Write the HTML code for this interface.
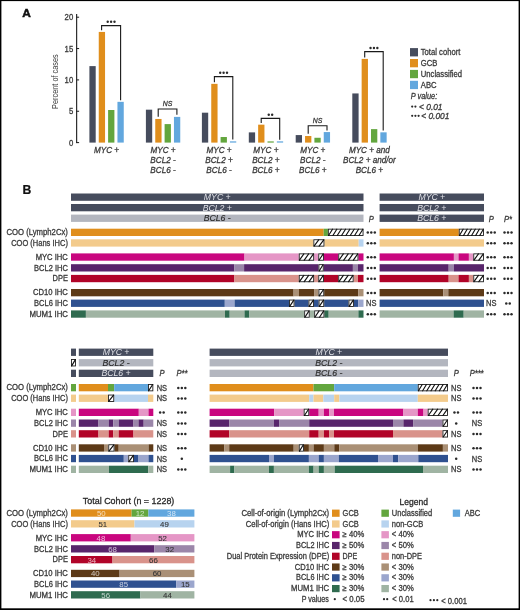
<!DOCTYPE html>
<html><head><meta charset="utf-8"><title>Figure</title>
<style>
html,body{margin:0;padding:0;background:#fff;width:520px;height:610px;overflow:hidden;}
svg{display:block;will-change:transform;}
text{font-family:"Liberation Sans", sans-serif;}
</style></head><body>
<svg width="520" height="610" viewBox="0 0 520 610">
<rect x="0" y="0" width="520" height="610" fill="#fff"/>
<text x="22.20" y="16.90" font-size="11.5" text-anchor="start" fill="#111" font-weight="bold" textLength="8.60" lengthAdjust="spacingAndGlyphs" stroke="#111" stroke-width="0.5">A</text>
<rect x="76.1" y="14.0" width="1.1" height="129.10" fill="#1a1a1a"/>
<rect x="76.5" y="142.10" width="2.6" height="1" fill="#1a1a1a"/>
<text x="73.20" y="145.70" font-size="8.6" text-anchor="end" fill="#3a3a3a" textLength="4.30" lengthAdjust="spacingAndGlyphs" stroke="#3a3a3a" stroke-width="0.3">0</text>
<rect x="76.5" y="110.75" width="2.6" height="1" fill="#1a1a1a"/>
<text x="73.20" y="114.35" font-size="8.6" text-anchor="end" fill="#3a3a3a" textLength="4.30" lengthAdjust="spacingAndGlyphs" stroke="#3a3a3a" stroke-width="0.3">5</text>
<rect x="76.5" y="79.40" width="2.6" height="1" fill="#1a1a1a"/>
<text x="73.20" y="83.00" font-size="8.6" text-anchor="end" fill="#3a3a3a" textLength="8.61" lengthAdjust="spacingAndGlyphs" stroke="#3a3a3a" stroke-width="0.3">10</text>
<rect x="76.5" y="48.05" width="2.6" height="1" fill="#1a1a1a"/>
<text x="73.20" y="51.65" font-size="8.6" text-anchor="end" fill="#3a3a3a" textLength="8.61" lengthAdjust="spacingAndGlyphs" stroke="#3a3a3a" stroke-width="0.3">15</text>
<rect x="76.5" y="16.70" width="2.6" height="1" fill="#1a1a1a"/>
<text x="73.20" y="20.30" font-size="8.6" text-anchor="end" fill="#3a3a3a" textLength="8.61" lengthAdjust="spacingAndGlyphs" stroke="#3a3a3a" stroke-width="0.3">20</text>
<text x="0" y="0" font-size="8.6" fill="#3a3a3a" text-anchor="middle" textLength="54.6" lengthAdjust="spacingAndGlyphs" transform="translate(57.9,81.6) rotate(-90)">Percent of cases</text>
<rect x="89.40" y="66.11" width="6.30" height="76.49" fill="#464c5d"/>
<rect x="98.75" y="31.93" width="6.30" height="110.67" fill="#e08e1c"/>
<rect x="108.10" y="110.00" width="6.30" height="32.60" fill="#63a63e"/>
<rect x="117.45" y="101.84" width="6.30" height="40.75" fill="#62a7de"/>
<rect x="145.90" y="109.68" width="6.30" height="32.92" fill="#464c5d"/>
<rect x="155.25" y="118.96" width="6.30" height="23.64" fill="#e08e1c"/>
<rect x="164.60" y="124.10" width="6.30" height="18.50" fill="#63a63e"/>
<rect x="173.95" y="116.89" width="6.30" height="25.71" fill="#62a7de"/>
<rect x="201.90" y="112.69" width="6.30" height="29.91" fill="#464c5d"/>
<rect x="211.25" y="83.85" width="6.30" height="58.75" fill="#e08e1c"/>
<rect x="220.60" y="137.02" width="6.30" height="5.58" fill="#63a63e"/>
<rect x="229.95" y="141.35" width="6.30" height="1.25" fill="#62a7de"/>
<rect x="248.80" y="132.38" width="6.30" height="10.22" fill="#464c5d"/>
<rect x="258.15" y="124.67" width="6.30" height="17.93" fill="#e08e1c"/>
<rect x="267.50" y="141.40" width="6.30" height="1.20" fill="#63a63e"/>
<rect x="276.85" y="141.35" width="6.30" height="1.25" fill="#62a7de"/>
<rect x="295.70" y="135.08" width="6.30" height="7.52" fill="#464c5d"/>
<rect x="305.05" y="136.02" width="6.30" height="6.58" fill="#e08e1c"/>
<rect x="314.40" y="137.77" width="6.30" height="4.83" fill="#63a63e"/>
<rect x="323.75" y="132.07" width="6.30" height="10.53" fill="#62a7de"/>
<rect x="352.30" y="93.44" width="6.30" height="49.16" fill="#464c5d"/>
<rect x="361.65" y="58.90" width="6.30" height="83.70" fill="#e08e1c"/>
<rect x="371.00" y="129.12" width="6.30" height="13.48" fill="#63a63e"/>
<rect x="380.35" y="132.32" width="6.30" height="10.28" fill="#62a7de"/>
<path d="M101.60,30.30V25.60H120.60V100.30" stroke="#1a1a1a" stroke-width="1.1" fill="none"/>
<circle cx="107.70" cy="21.80" r="1.2" fill="#2a2a2a"/>
<circle cx="111.10" cy="21.80" r="1.2" fill="#2a2a2a"/>
<circle cx="114.50" cy="21.80" r="1.2" fill="#2a2a2a"/>
<path d="M158.20,116.80V109.00H176.90V114.80" stroke="#1a1a1a" stroke-width="1.1" fill="none"/>
<text x="167.55" y="105.90" font-size="7.6" text-anchor="middle" fill="#3a3a3a" font-style="italic" textLength="9.50" lengthAdjust="spacingAndGlyphs" stroke="#3a3a3a" stroke-width="0.3">NS</text>
<path d="M214.40,82.20V76.60H232.80V139.60" stroke="#1a1a1a" stroke-width="1.1" fill="none"/>
<circle cx="220.20" cy="72.70" r="1.2" fill="#2a2a2a"/>
<circle cx="223.60" cy="72.70" r="1.2" fill="#2a2a2a"/>
<circle cx="227.00" cy="72.70" r="1.2" fill="#2a2a2a"/>
<path d="M261.20,123.00V118.40H279.70V139.80" stroke="#1a1a1a" stroke-width="1.1" fill="none"/>
<circle cx="268.75" cy="114.70" r="1.2" fill="#2a2a2a"/>
<circle cx="272.15" cy="114.70" r="1.2" fill="#2a2a2a"/>
<path d="M308.20,133.80V125.70H327.00V130.40" stroke="#1a1a1a" stroke-width="1.1" fill="none"/>
<text x="317.60" y="122.50" font-size="7.6" text-anchor="middle" fill="#3a3a3a" font-style="italic" textLength="9.50" lengthAdjust="spacingAndGlyphs" stroke="#3a3a3a" stroke-width="0.3">NS</text>
<path d="M364.70,57.60V51.60H383.20V130.60" stroke="#1a1a1a" stroke-width="1.1" fill="none"/>
<circle cx="370.55" cy="48.00" r="1.2" fill="#2a2a2a"/>
<circle cx="373.95" cy="48.00" r="1.2" fill="#2a2a2a"/>
<circle cx="377.35" cy="48.00" r="1.2" fill="#2a2a2a"/>
<text x="106.50" y="153.20" font-size="8.4" text-anchor="middle" fill="#3a3a3a" font-style="italic" textLength="25.13" lengthAdjust="spacingAndGlyphs" stroke="#3a3a3a" stroke-width="0.3">MYC +</text>
<text x="163.00" y="153.20" font-size="8.4" text-anchor="middle" fill="#3a3a3a" font-style="italic" textLength="25.13" lengthAdjust="spacingAndGlyphs" stroke="#3a3a3a" stroke-width="0.3">MYC +</text>
<text x="163.00" y="163.10" font-size="8.4" text-anchor="middle" fill="#3a3a3a" font-style="italic" textLength="25.36" lengthAdjust="spacingAndGlyphs" stroke="#3a3a3a" stroke-width="0.3">BCL2 -</text>
<text x="163.00" y="173.00" font-size="8.4" text-anchor="middle" fill="#3a3a3a" font-style="italic" textLength="25.36" lengthAdjust="spacingAndGlyphs" stroke="#3a3a3a" stroke-width="0.3">BCL6 -</text>
<text x="219.00" y="153.20" font-size="8.4" text-anchor="middle" fill="#3a3a3a" font-style="italic" textLength="25.13" lengthAdjust="spacingAndGlyphs" stroke="#3a3a3a" stroke-width="0.3">MYC +</text>
<text x="219.00" y="163.10" font-size="8.4" text-anchor="middle" fill="#3a3a3a" font-style="italic" textLength="27.40" lengthAdjust="spacingAndGlyphs" stroke="#3a3a3a" stroke-width="0.3">BCL2 +</text>
<text x="219.00" y="173.00" font-size="8.4" text-anchor="middle" fill="#3a3a3a" font-style="italic" textLength="25.36" lengthAdjust="spacingAndGlyphs" stroke="#3a3a3a" stroke-width="0.3">BCL6 -</text>
<text x="265.90" y="153.20" font-size="8.4" text-anchor="middle" fill="#3a3a3a" font-style="italic" textLength="25.13" lengthAdjust="spacingAndGlyphs" stroke="#3a3a3a" stroke-width="0.3">MYC +</text>
<text x="265.90" y="163.10" font-size="8.4" text-anchor="middle" fill="#3a3a3a" font-style="italic" textLength="27.40" lengthAdjust="spacingAndGlyphs" stroke="#3a3a3a" stroke-width="0.3">BCL2 +</text>
<text x="265.90" y="173.00" font-size="8.4" text-anchor="middle" fill="#3a3a3a" font-style="italic" textLength="27.40" lengthAdjust="spacingAndGlyphs" stroke="#3a3a3a" stroke-width="0.3">BCL6 +</text>
<text x="312.80" y="153.20" font-size="8.4" text-anchor="middle" fill="#3a3a3a" font-style="italic" textLength="25.13" lengthAdjust="spacingAndGlyphs" stroke="#3a3a3a" stroke-width="0.3">MYC +</text>
<text x="312.80" y="163.10" font-size="8.4" text-anchor="middle" fill="#3a3a3a" font-style="italic" textLength="25.36" lengthAdjust="spacingAndGlyphs" stroke="#3a3a3a" stroke-width="0.3">BCL2 -</text>
<text x="312.80" y="173.00" font-size="8.4" text-anchor="middle" fill="#3a3a3a" font-style="italic" textLength="27.40" lengthAdjust="spacingAndGlyphs" stroke="#3a3a3a" stroke-width="0.3">BCL6 +</text>
<text x="369.40" y="153.20" font-size="8.4" text-anchor="middle" fill="#3a3a3a" font-style="italic" textLength="40.99" lengthAdjust="spacingAndGlyphs" stroke="#3a3a3a" stroke-width="0.3">MYC + and</text>
<text x="369.40" y="163.10" font-size="8.4" text-anchor="middle" fill="#3a3a3a" font-style="italic" textLength="52.77" lengthAdjust="spacingAndGlyphs" stroke="#3a3a3a" stroke-width="0.3">BCL2 + and/or</text>
<text x="369.40" y="173.00" font-size="8.4" text-anchor="middle" fill="#3a3a3a" font-style="italic" textLength="27.40" lengthAdjust="spacingAndGlyphs" stroke="#3a3a3a" stroke-width="0.3">BCL6 +</text>
<rect x="410.00" y="48.10" width="8.00" height="8.30" fill="#464c5d"/>
<text x="420.80" y="55.10" font-size="8.5" text-anchor="start" fill="#3a3a3a" textLength="39.54" lengthAdjust="spacingAndGlyphs" stroke="#3a3a3a" stroke-width="0.3">Total cohort</text>
<rect x="410.00" y="59.00" width="8.00" height="8.30" fill="#e08e1c"/>
<text x="420.80" y="66.00" font-size="8.5" text-anchor="start" fill="#3a3a3a" textLength="16.58" lengthAdjust="spacingAndGlyphs" stroke="#3a3a3a" stroke-width="0.3">GCB</text>
<rect x="410.00" y="69.90" width="8.00" height="8.30" fill="#63a63e"/>
<text x="420.80" y="76.90" font-size="8.5" text-anchor="start" fill="#3a3a3a" textLength="41.24" lengthAdjust="spacingAndGlyphs" stroke="#3a3a3a" stroke-width="0.3">Unclassified</text>
<rect x="410.00" y="80.80" width="8.00" height="8.30" fill="#62a7de"/>
<text x="420.80" y="87.80" font-size="8.5" text-anchor="start" fill="#3a3a3a" textLength="15.73" lengthAdjust="spacingAndGlyphs" stroke="#3a3a3a" stroke-width="0.3">ABC</text>
<text x="410.80" y="99.30" font-size="8.2" text-anchor="start" fill="#3a3a3a" font-style="italic" textLength="26.39" lengthAdjust="spacingAndGlyphs" stroke="#3a3a3a" stroke-width="0.3">P value:</text>
<circle cx="412.20" cy="106.60" r="1.1" fill="#2a2a2a"/>
<circle cx="415.40" cy="106.60" r="1.1" fill="#2a2a2a"/>
<text x="419.00" y="110.20" font-size="8.4" text-anchor="start" fill="#3a3a3a" font-style="italic" stroke="#3a3a3a" stroke-width="0.3">&lt; 0.01</text>
<circle cx="412.20" cy="115.80" r="1.1" fill="#2a2a2a"/>
<circle cx="415.40" cy="115.80" r="1.1" fill="#2a2a2a"/>
<circle cx="418.60" cy="115.80" r="1.1" fill="#2a2a2a"/>
<text x="421.20" y="119.40" font-size="8.4" text-anchor="start" fill="#3a3a3a" font-style="italic" stroke="#3a3a3a" stroke-width="0.3">&lt; 0.001</text>
<text x="22.60" y="194.00" font-size="12.2" text-anchor="start" fill="#111" font-weight="bold" stroke="#111" stroke-width="0.2">B</text>
<text x="67.90" y="235.10" font-size="8.4" text-anchor="end" fill="#3a3a3a" textLength="61.40" lengthAdjust="spacingAndGlyphs" stroke="#3a3a3a" stroke-width="0.3">COO (Lymph2Cx)</text>
<text x="67.90" y="245.70" font-size="8.4" text-anchor="end" fill="#3a3a3a" textLength="56.70" lengthAdjust="spacingAndGlyphs" stroke="#3a3a3a" stroke-width="0.3">COO (Hans IHC)</text>
<text x="67.90" y="259.80" font-size="8.4" text-anchor="end" fill="#3a3a3a" textLength="32.20" lengthAdjust="spacingAndGlyphs" stroke="#3a3a3a" stroke-width="0.3">MYC IHC</text>
<text x="67.90" y="270.60" font-size="8.4" text-anchor="end" fill="#3a3a3a" textLength="33.80" lengthAdjust="spacingAndGlyphs" stroke="#3a3a3a" stroke-width="0.3">BCL2 IHC</text>
<text x="67.90" y="281.30" font-size="8.4" text-anchor="end" fill="#3a3a3a" textLength="15.40" lengthAdjust="spacingAndGlyphs" stroke="#3a3a3a" stroke-width="0.3">DPE</text>
<text x="67.90" y="295.40" font-size="8.4" text-anchor="end" fill="#3a3a3a" textLength="34.90" lengthAdjust="spacingAndGlyphs" stroke="#3a3a3a" stroke-width="0.3">CD10 IHC</text>
<text x="67.90" y="306.00" font-size="8.4" text-anchor="end" fill="#3a3a3a" textLength="33.80" lengthAdjust="spacingAndGlyphs" stroke="#3a3a3a" stroke-width="0.3">BCL6 IHC</text>
<text x="67.90" y="316.80" font-size="8.4" text-anchor="end" fill="#3a3a3a" textLength="38.50" lengthAdjust="spacingAndGlyphs" stroke="#3a3a3a" stroke-width="0.3">MUM1 IHC</text>
<text x="67.90" y="390.40" font-size="8.4" text-anchor="end" fill="#3a3a3a" textLength="61.40" lengthAdjust="spacingAndGlyphs" stroke="#3a3a3a" stroke-width="0.3">COO (Lymph2Cx)</text>
<text x="67.90" y="401.00" font-size="8.4" text-anchor="end" fill="#3a3a3a" textLength="56.70" lengthAdjust="spacingAndGlyphs" stroke="#3a3a3a" stroke-width="0.3">COO (Hans IHC)</text>
<text x="67.90" y="415.10" font-size="8.4" text-anchor="end" fill="#3a3a3a" textLength="32.20" lengthAdjust="spacingAndGlyphs" stroke="#3a3a3a" stroke-width="0.3">MYC IHC</text>
<text x="67.90" y="425.90" font-size="8.4" text-anchor="end" fill="#3a3a3a" textLength="33.80" lengthAdjust="spacingAndGlyphs" stroke="#3a3a3a" stroke-width="0.3">BCL2 IHC</text>
<text x="67.90" y="436.60" font-size="8.4" text-anchor="end" fill="#3a3a3a" textLength="15.40" lengthAdjust="spacingAndGlyphs" stroke="#3a3a3a" stroke-width="0.3">DPE</text>
<text x="67.90" y="450.70" font-size="8.4" text-anchor="end" fill="#3a3a3a" textLength="34.90" lengthAdjust="spacingAndGlyphs" stroke="#3a3a3a" stroke-width="0.3">CD10 IHC</text>
<text x="67.90" y="461.30" font-size="8.4" text-anchor="end" fill="#3a3a3a" textLength="33.80" lengthAdjust="spacingAndGlyphs" stroke="#3a3a3a" stroke-width="0.3">BCL6 IHC</text>
<text x="67.90" y="472.10" font-size="8.4" text-anchor="end" fill="#3a3a3a" textLength="38.50" lengthAdjust="spacingAndGlyphs" stroke="#3a3a3a" stroke-width="0.3">MUM1 IHC</text>
<rect x="71.00" y="193.50" width="292.50" height="7.30" fill="#464c5d"/>
<text x="217.25" y="200.00" font-size="8.7" text-anchor="middle" fill="#dfe0e6" font-style="italic">MYC +</text>
<rect x="71.00" y="204.00" width="292.50" height="7.30" fill="#464c5d"/>
<text x="217.25" y="210.50" font-size="8.7" text-anchor="middle" fill="#dfe0e6" font-style="italic">BCL2 +</text>
<rect x="71.00" y="214.60" width="292.50" height="7.30" fill="#b3b6bf"/>
<text x="217.25" y="221.10" font-size="8.7" text-anchor="middle" fill="#2a2a2a" font-style="italic" stroke="#2a2a2a" stroke-width="0.15">BCL6 -</text>
<rect x="71.00" y="228.70" width="252.70" height="7.30" fill="#e08e1c"/>
<rect x="323.70" y="228.70" width="4.20" height="7.30" fill="#63a63e"/>
<rect x="328.35" y="229.15" width="34.70" height="6.40" fill="#fff" stroke="#1e1e1e" stroke-width="0.9"/>
<path d="M328.55,235.50L332.49,229.20 M332.89,235.50L336.82,229.20 M337.22,235.50L341.16,229.20 M341.56,235.50L345.50,229.20 M345.90,235.50L349.84,229.20 M350.24,235.50L354.17,229.20 M354.57,235.50L358.51,229.20 M358.91,235.50L362.85,229.20" stroke="#111" stroke-width="1.15" fill="none" stroke-linecap="round"/>
<rect x="71.00" y="239.30" width="242.40" height="7.30" fill="#f3cb8c"/>
<rect x="324.40" y="239.30" width="34.30" height="7.30" fill="#f3cb8c"/>
<rect x="358.70" y="239.30" width="4.80" height="7.30" fill="#b7d3ef"/>
<rect x="313.85" y="239.75" width="10.10" height="6.40" fill="#fff" stroke="#1e1e1e" stroke-width="0.9"/>
<path d="M314.05,246.10L318.70,239.80 M319.10,246.10L323.75,239.80" stroke="#111" stroke-width="1.15" fill="none" stroke-linecap="round"/>
<rect x="71.00" y="253.40" width="173.50" height="7.30" fill="#c9067f"/>
<rect x="244.50" y="253.40" width="54.30" height="7.30" fill="#e596c6"/>
<rect x="314.10" y="253.40" width="4.20" height="7.30" fill="#e596c6"/>
<rect x="323.90" y="253.40" width="14.40" height="7.30" fill="#c9067f"/>
<rect x="358.40" y="253.40" width="5.10" height="7.30" fill="#c9067f"/>
<rect x="299.25" y="253.85" width="14.40" height="6.40" fill="#fff" stroke="#1e1e1e" stroke-width="0.9"/>
<path d="M299.45,260.20L303.85,253.90 M304.25,260.20L308.65,253.90 M309.05,260.20L313.45,253.90" stroke="#111" stroke-width="1.15" fill="none" stroke-linecap="round"/>
<rect x="318.75" y="253.85" width="4.70" height="6.40" fill="#fff" stroke="#1e1e1e" stroke-width="0.9"/>
<path d="M318.95,260.20L323.25,253.90" stroke="#111" stroke-width="1.15" fill="none" stroke-linecap="round"/>
<rect x="338.75" y="253.85" width="19.20" height="6.40" fill="#fff" stroke="#1e1e1e" stroke-width="0.9"/>
<path d="M338.95,260.20L343.35,253.90 M343.75,260.20L348.15,253.90 M348.55,260.20L352.95,253.90 M353.35,260.20L357.75,253.90" stroke="#111" stroke-width="1.15" fill="none" stroke-linecap="round"/>
<rect x="71.00" y="264.20" width="163.40" height="7.30" fill="#58256b"/>
<rect x="234.40" y="264.20" width="9.70" height="7.30" fill="#9b86a9"/>
<rect x="244.10" y="264.20" width="74.40" height="7.30" fill="#58256b"/>
<rect x="323.70" y="264.20" width="29.20" height="7.30" fill="#58256b"/>
<rect x="352.90" y="264.20" width="5.00" height="7.30" fill="#9b86a9"/>
<rect x="357.90" y="264.20" width="5.60" height="7.30" fill="#58256b"/>
<rect x="318.95" y="264.65" width="4.30" height="6.40" fill="#fff" stroke="#1e1e1e" stroke-width="0.9"/>
<path d="M319.15,271.00L323.05,264.70" stroke="#111" stroke-width="1.15" fill="none" stroke-linecap="round"/>
<rect x="71.00" y="274.90" width="163.40" height="7.30" fill="#b10428"/>
<rect x="234.40" y="274.90" width="64.40" height="7.30" fill="#d9938b"/>
<rect x="314.10" y="274.90" width="4.20" height="7.30" fill="#d9938b"/>
<rect x="323.90" y="274.90" width="14.40" height="7.30" fill="#b10428"/>
<rect x="353.60" y="274.90" width="4.40" height="7.30" fill="#d9938b"/>
<rect x="358.00" y="274.90" width="5.50" height="7.30" fill="#b10428"/>
<rect x="299.25" y="275.35" width="14.40" height="6.40" fill="#fff" stroke="#1e1e1e" stroke-width="0.9"/>
<path d="M299.45,281.70L303.85,275.40 M304.25,281.70L308.65,275.40 M309.05,281.70L313.45,275.40" stroke="#111" stroke-width="1.15" fill="none" stroke-linecap="round"/>
<rect x="318.75" y="275.35" width="4.70" height="6.40" fill="#fff" stroke="#1e1e1e" stroke-width="0.9"/>
<path d="M318.95,281.70L323.25,275.40" stroke="#111" stroke-width="1.15" fill="none" stroke-linecap="round"/>
<rect x="338.75" y="275.35" width="14.40" height="6.40" fill="#fff" stroke="#1e1e1e" stroke-width="0.9"/>
<path d="M338.95,281.70L343.35,275.40 M343.75,281.70L348.15,275.40 M348.55,281.70L352.95,275.40" stroke="#111" stroke-width="1.15" fill="none" stroke-linecap="round"/>
<rect x="71.00" y="289.00" width="222.60" height="7.30" fill="#5d3a17"/>
<rect x="293.60" y="289.00" width="5.40" height="7.30" fill="#aa9076"/>
<rect x="299.00" y="289.00" width="15.10" height="7.30" fill="#5d3a17"/>
<rect x="314.10" y="289.00" width="4.40" height="7.30" fill="#aa9076"/>
<rect x="324.20" y="289.00" width="34.00" height="7.30" fill="#5d3a17"/>
<rect x="358.20" y="289.00" width="5.30" height="7.30" fill="#aa9076"/>
<rect x="318.95" y="289.45" width="4.80" height="6.40" fill="#fff" stroke="#1e1e1e" stroke-width="0.9"/>
<path d="M319.15,295.80L323.55,289.50" stroke="#111" stroke-width="1.15" fill="none" stroke-linecap="round"/>
<rect x="71.00" y="299.60" width="153.80" height="7.30" fill="#2f5190"/>
<rect x="224.80" y="299.60" width="9.80" height="7.30" fill="#9ba6cd"/>
<rect x="234.60" y="299.60" width="54.40" height="7.30" fill="#2f5190"/>
<rect x="294.50" y="299.60" width="14.00" height="7.30" fill="#2f5190"/>
<rect x="314.00" y="299.60" width="4.60" height="7.30" fill="#2f5190"/>
<rect x="324.20" y="299.60" width="24.30" height="7.30" fill="#2f5190"/>
<rect x="353.90" y="299.60" width="4.30" height="7.30" fill="#2f5190"/>
<rect x="358.20" y="299.60" width="5.30" height="7.30" fill="#9ba6cd"/>
<rect x="289.45" y="300.05" width="4.60" height="6.40" fill="#fff" stroke="#1e1e1e" stroke-width="0.9"/>
<path d="M289.65,306.40L293.85,300.10" stroke="#111" stroke-width="1.15" fill="none" stroke-linecap="round"/>
<rect x="308.95" y="300.05" width="4.60" height="6.40" fill="#fff" stroke="#1e1e1e" stroke-width="0.9"/>
<path d="M309.15,306.40L313.35,300.10" stroke="#111" stroke-width="1.15" fill="none" stroke-linecap="round"/>
<rect x="319.05" y="300.05" width="4.70" height="6.40" fill="#fff" stroke="#1e1e1e" stroke-width="0.9"/>
<path d="M319.25,306.40L323.55,300.10" stroke="#111" stroke-width="1.15" fill="none" stroke-linecap="round"/>
<rect x="348.95" y="300.05" width="4.50" height="6.40" fill="#fff" stroke="#1e1e1e" stroke-width="0.9"/>
<path d="M349.15,306.40L353.25,300.10" stroke="#111" stroke-width="1.15" fill="none" stroke-linecap="round"/>
<rect x="71.00" y="310.40" width="14.90" height="7.30" fill="#2f6b4f"/>
<rect x="85.90" y="310.40" width="139.10" height="7.30" fill="#a0b4a3"/>
<rect x="225.00" y="310.40" width="4.70" height="7.30" fill="#2f6b4f"/>
<rect x="229.70" y="310.40" width="14.80" height="7.30" fill="#a0b4a3"/>
<rect x="244.50" y="310.40" width="4.90" height="7.30" fill="#2f6b4f"/>
<rect x="249.40" y="310.40" width="54.80" height="7.30" fill="#a0b4a3"/>
<rect x="309.70" y="310.40" width="4.50" height="7.30" fill="#a0b4a3"/>
<rect x="324.40" y="310.40" width="4.30" height="7.30" fill="#2f6b4f"/>
<rect x="328.70" y="310.40" width="29.70" height="7.30" fill="#a0b4a3"/>
<rect x="358.40" y="310.40" width="5.10" height="7.30" fill="#2f6b4f"/>
<rect x="304.65" y="310.85" width="4.60" height="6.40" fill="#fff" stroke="#1e1e1e" stroke-width="0.9"/>
<path d="M304.85,317.20L309.05,310.90" stroke="#111" stroke-width="1.15" fill="none" stroke-linecap="round"/>
<rect x="314.65" y="310.85" width="9.30" height="6.40" fill="#fff" stroke="#1e1e1e" stroke-width="0.9"/>
<path d="M314.85,317.20L319.10,310.90 M319.50,317.20L323.75,310.90" stroke="#111" stroke-width="1.15" fill="none" stroke-linecap="round"/>
<text x="371.30" y="222.20" font-size="8.4" text-anchor="middle" fill="#3a3a3a" font-style="italic" textLength="5.04" lengthAdjust="spacingAndGlyphs" stroke="#3a3a3a" stroke-width="0.3">P</text>
<circle cx="367.80" cy="232.60" r="1.25" fill="#2a2a2a"/>
<circle cx="371.30" cy="232.60" r="1.25" fill="#2a2a2a"/>
<circle cx="374.80" cy="232.60" r="1.25" fill="#2a2a2a"/>
<circle cx="367.80" cy="243.20" r="1.25" fill="#2a2a2a"/>
<circle cx="371.30" cy="243.20" r="1.25" fill="#2a2a2a"/>
<circle cx="374.80" cy="243.20" r="1.25" fill="#2a2a2a"/>
<circle cx="367.80" cy="257.30" r="1.25" fill="#2a2a2a"/>
<circle cx="371.30" cy="257.30" r="1.25" fill="#2a2a2a"/>
<circle cx="374.80" cy="257.30" r="1.25" fill="#2a2a2a"/>
<circle cx="367.80" cy="268.10" r="1.25" fill="#2a2a2a"/>
<circle cx="371.30" cy="268.10" r="1.25" fill="#2a2a2a"/>
<circle cx="374.80" cy="268.10" r="1.25" fill="#2a2a2a"/>
<circle cx="367.80" cy="278.80" r="1.25" fill="#2a2a2a"/>
<circle cx="371.30" cy="278.80" r="1.25" fill="#2a2a2a"/>
<circle cx="374.80" cy="278.80" r="1.25" fill="#2a2a2a"/>
<circle cx="367.80" cy="292.90" r="1.25" fill="#2a2a2a"/>
<circle cx="371.30" cy="292.90" r="1.25" fill="#2a2a2a"/>
<circle cx="374.80" cy="292.90" r="1.25" fill="#2a2a2a"/>
<text x="371.30" y="306.20" font-size="8.3" text-anchor="middle" fill="#3a3a3a" textLength="10.38" lengthAdjust="spacingAndGlyphs" stroke="#3a3a3a" stroke-width="0.3">NS</text>
<circle cx="367.80" cy="314.30" r="1.25" fill="#2a2a2a"/>
<circle cx="371.30" cy="314.30" r="1.25" fill="#2a2a2a"/>
<circle cx="374.80" cy="314.30" r="1.25" fill="#2a2a2a"/>
<rect x="379.60" y="193.50" width="104.40" height="7.30" fill="#464c5d"/>
<text x="431.80" y="200.00" font-size="8.7" text-anchor="middle" fill="#dfe0e6" font-style="italic">MYC +</text>
<rect x="379.60" y="204.00" width="104.40" height="7.30" fill="#464c5d"/>
<text x="431.80" y="210.50" font-size="8.7" text-anchor="middle" fill="#dfe0e6" font-style="italic">BCL2 +</text>
<rect x="379.60" y="214.60" width="104.40" height="7.30" fill="#464c5d"/>
<text x="431.80" y="221.10" font-size="8.7" text-anchor="middle" fill="#dfe0e6" font-style="italic">BCL6 +</text>
<rect x="379.60" y="228.70" width="79.20" height="7.30" fill="#e08e1c"/>
<rect x="459.25" y="229.15" width="24.30" height="6.40" fill="#fff" stroke="#1e1e1e" stroke-width="0.9"/>
<path d="M459.45,235.50L463.10,229.20 M463.50,235.50L467.15,229.20 M467.55,235.50L471.20,229.20 M471.60,235.50L475.25,229.20 M475.65,235.50L479.30,229.20 M479.70,235.50L483.35,229.20" stroke="#111" stroke-width="1.15" fill="none" stroke-linecap="round"/>
<rect x="379.60" y="239.30" width="104.40" height="7.30" fill="#f3cb8c"/>
<rect x="379.60" y="253.40" width="74.30" height="7.30" fill="#c9067f"/>
<rect x="453.90" y="253.40" width="4.60" height="7.30" fill="#e596c6"/>
<rect x="458.50" y="253.40" width="10.40" height="7.30" fill="#c9067f"/>
<rect x="468.90" y="253.40" width="4.40" height="7.30" fill="#e596c6"/>
<rect x="473.75" y="253.85" width="9.80" height="6.40" fill="#fff" stroke="#1e1e1e" stroke-width="0.9"/>
<path d="M473.95,260.20L478.45,253.90 M478.85,260.20L483.35,253.90" stroke="#111" stroke-width="1.15" fill="none" stroke-linecap="round"/>
<rect x="379.60" y="264.20" width="69.10" height="7.30" fill="#58256b"/>
<rect x="448.70" y="264.20" width="5.20" height="7.30" fill="#9b86a9"/>
<rect x="453.90" y="264.20" width="30.10" height="7.30" fill="#58256b"/>
<rect x="379.60" y="274.90" width="69.10" height="7.30" fill="#b10428"/>
<rect x="448.70" y="274.90" width="9.80" height="7.30" fill="#d9938b"/>
<rect x="458.50" y="274.90" width="10.40" height="7.30" fill="#b10428"/>
<rect x="468.90" y="274.90" width="4.40" height="7.30" fill="#d9938b"/>
<rect x="473.75" y="275.35" width="9.80" height="6.40" fill="#fff" stroke="#1e1e1e" stroke-width="0.9"/>
<path d="M473.95,281.70L478.45,275.40 M478.85,281.70L483.35,275.40" stroke="#111" stroke-width="1.15" fill="none" stroke-linecap="round"/>
<rect x="379.60" y="289.00" width="63.70" height="7.30" fill="#5d3a17"/>
<rect x="443.30" y="289.00" width="5.00" height="7.30" fill="#aa9076"/>
<rect x="448.30" y="289.00" width="35.70" height="7.30" fill="#5d3a17"/>
<rect x="379.60" y="299.60" width="104.40" height="7.30" fill="#2f5190"/>
<rect x="379.60" y="310.40" width="74.00" height="7.30" fill="#a0b4a3"/>
<rect x="453.60" y="310.40" width="10.10" height="7.30" fill="#2f6b4f"/>
<rect x="463.70" y="310.40" width="20.30" height="7.30" fill="#a0b4a3"/>
<text x="491.20" y="222.20" font-size="8.4" text-anchor="middle" fill="#3a3a3a" font-style="italic" textLength="5.04" lengthAdjust="spacingAndGlyphs" stroke="#3a3a3a" stroke-width="0.3">P</text>
<circle cx="487.70" cy="232.60" r="1.25" fill="#2a2a2a"/>
<circle cx="491.20" cy="232.60" r="1.25" fill="#2a2a2a"/>
<circle cx="494.70" cy="232.60" r="1.25" fill="#2a2a2a"/>
<circle cx="487.70" cy="243.20" r="1.25" fill="#2a2a2a"/>
<circle cx="491.20" cy="243.20" r="1.25" fill="#2a2a2a"/>
<circle cx="494.70" cy="243.20" r="1.25" fill="#2a2a2a"/>
<circle cx="487.70" cy="257.30" r="1.25" fill="#2a2a2a"/>
<circle cx="491.20" cy="257.30" r="1.25" fill="#2a2a2a"/>
<circle cx="494.70" cy="257.30" r="1.25" fill="#2a2a2a"/>
<circle cx="487.70" cy="268.10" r="1.25" fill="#2a2a2a"/>
<circle cx="491.20" cy="268.10" r="1.25" fill="#2a2a2a"/>
<circle cx="494.70" cy="268.10" r="1.25" fill="#2a2a2a"/>
<circle cx="487.70" cy="278.80" r="1.25" fill="#2a2a2a"/>
<circle cx="491.20" cy="278.80" r="1.25" fill="#2a2a2a"/>
<circle cx="494.70" cy="278.80" r="1.25" fill="#2a2a2a"/>
<circle cx="487.70" cy="292.90" r="1.25" fill="#2a2a2a"/>
<circle cx="491.20" cy="292.90" r="1.25" fill="#2a2a2a"/>
<circle cx="494.70" cy="292.90" r="1.25" fill="#2a2a2a"/>
<text x="491.20" y="306.20" font-size="8.3" text-anchor="middle" fill="#3a3a3a" textLength="10.38" lengthAdjust="spacingAndGlyphs" stroke="#3a3a3a" stroke-width="0.3">NS</text>
<circle cx="487.70" cy="314.30" r="1.25" fill="#2a2a2a"/>
<circle cx="491.20" cy="314.30" r="1.25" fill="#2a2a2a"/>
<circle cx="494.70" cy="314.30" r="1.25" fill="#2a2a2a"/>
<circle cx="504.50" cy="232.60" r="1.25" fill="#2a2a2a"/>
<circle cx="508.00" cy="232.60" r="1.25" fill="#2a2a2a"/>
<circle cx="511.50" cy="232.60" r="1.25" fill="#2a2a2a"/>
<circle cx="504.50" cy="243.20" r="1.25" fill="#2a2a2a"/>
<circle cx="508.00" cy="243.20" r="1.25" fill="#2a2a2a"/>
<circle cx="511.50" cy="243.20" r="1.25" fill="#2a2a2a"/>
<circle cx="504.50" cy="257.30" r="1.25" fill="#2a2a2a"/>
<circle cx="508.00" cy="257.30" r="1.25" fill="#2a2a2a"/>
<circle cx="511.50" cy="257.30" r="1.25" fill="#2a2a2a"/>
<circle cx="504.50" cy="268.10" r="1.25" fill="#2a2a2a"/>
<circle cx="508.00" cy="268.10" r="1.25" fill="#2a2a2a"/>
<circle cx="511.50" cy="268.10" r="1.25" fill="#2a2a2a"/>
<circle cx="504.50" cy="278.80" r="1.25" fill="#2a2a2a"/>
<circle cx="508.00" cy="278.80" r="1.25" fill="#2a2a2a"/>
<circle cx="511.50" cy="278.80" r="1.25" fill="#2a2a2a"/>
<circle cx="504.50" cy="292.90" r="1.25" fill="#2a2a2a"/>
<circle cx="508.00" cy="292.90" r="1.25" fill="#2a2a2a"/>
<circle cx="511.50" cy="292.90" r="1.25" fill="#2a2a2a"/>
<circle cx="506.25" cy="303.50" r="1.25" fill="#2a2a2a"/>
<circle cx="509.75" cy="303.50" r="1.25" fill="#2a2a2a"/>
<circle cx="504.50" cy="314.30" r="1.25" fill="#2a2a2a"/>
<circle cx="508.00" cy="314.30" r="1.25" fill="#2a2a2a"/>
<circle cx="511.50" cy="314.30" r="1.25" fill="#2a2a2a"/>
<text x="504.00" y="222.20" font-size="8.4" text-anchor="start" fill="#3a3a3a" font-style="italic" textLength="7.99" lengthAdjust="spacingAndGlyphs" stroke="#3a3a3a" stroke-width="0.3">P*</text>
<rect x="71.00" y="348.60" width="5.00" height="7.30" fill="#464c5d"/>
<rect x="71.45" y="359.55" width="4.10" height="6.40" fill="#fff" stroke="#1e1e1e" stroke-width="0.9"/>
<path d="M71.65,365.90L75.35,359.60" stroke="#111" stroke-width="1.15" fill="none" stroke-linecap="round"/>
<rect x="71.00" y="369.70" width="5.00" height="7.30" fill="#464c5d"/>
<rect x="71.00" y="384.00" width="5.00" height="7.30" fill="#63a63e"/>
<rect x="71.00" y="394.60" width="5.00" height="7.30" fill="#f3cb8c"/>
<rect x="71.00" y="408.70" width="5.00" height="7.30" fill="#e596c6"/>
<rect x="71.00" y="419.50" width="5.00" height="7.30" fill="#9b86a9"/>
<rect x="71.00" y="430.20" width="5.00" height="7.30" fill="#d9938b"/>
<rect x="71.00" y="444.30" width="5.00" height="7.30" fill="#aa9076"/>
<rect x="71.00" y="454.90" width="5.00" height="7.30" fill="#2f5190"/>
<rect x="71.00" y="465.70" width="5.00" height="7.30" fill="#a0b4a3"/>
<rect x="78.80" y="348.60" width="74.50" height="7.30" fill="#464c5d"/>
<text x="116.05" y="355.10" font-size="8.7" text-anchor="middle" fill="#dfe0e6" font-style="italic">MYC +</text>
<rect x="78.80" y="359.10" width="74.50" height="7.30" fill="#b3b6bf"/>
<text x="116.05" y="365.60" font-size="8.7" text-anchor="middle" fill="#2a2a2a" font-style="italic" stroke="#2a2a2a" stroke-width="0.15">BCL2 -</text>
<rect x="78.80" y="369.70" width="74.50" height="7.30" fill="#464c5d"/>
<text x="116.05" y="376.20" font-size="8.7" text-anchor="middle" fill="#dfe0e6" font-style="italic">BCL6 +</text>
<rect x="78.80" y="384.00" width="29.20" height="7.30" fill="#e08e1c"/>
<rect x="108.00" y="384.00" width="6.20" height="7.30" fill="#63a63e"/>
<rect x="114.20" y="384.00" width="33.80" height="7.30" fill="#62a7de"/>
<rect x="148.45" y="384.45" width="4.40" height="6.40" fill="#fff" stroke="#1e1e1e" stroke-width="0.9"/>
<path d="M148.65,390.80L152.65,384.50" stroke="#111" stroke-width="1.15" fill="none" stroke-linecap="round"/>
<rect x="78.80" y="394.60" width="29.20" height="7.30" fill="#f3cb8c"/>
<rect x="114.20" y="394.60" width="33.80" height="7.30" fill="#b7d3ef"/>
<rect x="148.00" y="394.60" width="5.30" height="7.30" fill="#f3cb8c"/>
<rect x="108.45" y="395.05" width="5.30" height="6.40" fill="#fff" stroke="#1e1e1e" stroke-width="0.9"/>
<path d="M108.65,401.40L113.55,395.10" stroke="#111" stroke-width="1.15" fill="none" stroke-linecap="round"/>
<rect x="78.80" y="408.70" width="60.00" height="7.30" fill="#c9067f"/>
<rect x="138.80" y="408.70" width="9.70" height="7.30" fill="#e596c6"/>
<rect x="148.50" y="408.70" width="4.80" height="7.30" fill="#c9067f"/>
<rect x="78.80" y="419.50" width="19.70" height="7.30" fill="#58256b"/>
<rect x="98.50" y="419.50" width="10.20" height="7.30" fill="#9b86a9"/>
<rect x="108.70" y="419.50" width="4.60" height="7.30" fill="#58256b"/>
<rect x="113.30" y="419.50" width="5.40" height="7.30" fill="#9b86a9"/>
<rect x="118.70" y="419.50" width="14.80" height="7.30" fill="#58256b"/>
<rect x="133.50" y="419.50" width="5.00" height="7.30" fill="#9b86a9"/>
<rect x="138.50" y="419.50" width="5.20" height="7.30" fill="#58256b"/>
<rect x="143.70" y="419.50" width="9.60" height="7.30" fill="#9b86a9"/>
<rect x="78.80" y="430.20" width="19.70" height="7.30" fill="#b10428"/>
<rect x="98.50" y="430.20" width="10.20" height="7.30" fill="#d9938b"/>
<rect x="108.70" y="430.20" width="4.60" height="7.30" fill="#b10428"/>
<rect x="113.30" y="430.20" width="5.40" height="7.30" fill="#d9938b"/>
<rect x="118.70" y="430.20" width="14.80" height="7.30" fill="#b10428"/>
<rect x="133.50" y="430.20" width="19.80" height="7.30" fill="#d9938b"/>
<rect x="78.80" y="444.30" width="25.20" height="7.30" fill="#5d3a17"/>
<rect x="104.00" y="444.30" width="4.30" height="7.30" fill="#aa9076"/>
<rect x="114.50" y="444.30" width="4.20" height="7.30" fill="#5d3a17"/>
<rect x="118.70" y="444.30" width="29.90" height="7.30" fill="#aa9076"/>
<rect x="148.60" y="444.30" width="4.70" height="7.30" fill="#5d3a17"/>
<rect x="108.75" y="444.75" width="5.30" height="6.40" fill="#fff" stroke="#1e1e1e" stroke-width="0.9"/>
<path d="M108.95,451.10L113.85,444.80" stroke="#111" stroke-width="1.15" fill="none" stroke-linecap="round"/>
<rect x="78.80" y="454.90" width="45.00" height="7.30" fill="#2f5190"/>
<rect x="123.80" y="454.90" width="4.50" height="7.30" fill="#9ba6cd"/>
<rect x="134.00" y="454.90" width="4.50" height="7.30" fill="#2f5190"/>
<rect x="138.50" y="454.90" width="10.00" height="7.30" fill="#9ba6cd"/>
<rect x="148.50" y="454.90" width="4.80" height="7.30" fill="#2f5190"/>
<rect x="128.75" y="455.35" width="4.80" height="6.40" fill="#fff" stroke="#1e1e1e" stroke-width="0.9"/>
<path d="M128.95,461.70L133.35,455.40" stroke="#111" stroke-width="1.15" fill="none" stroke-linecap="round"/>
<rect x="78.80" y="465.70" width="30.20" height="7.30" fill="#a0b4a3"/>
<rect x="109.00" y="465.70" width="39.30" height="7.30" fill="#2f6b4f"/>
<rect x="148.30" y="465.70" width="5.00" height="7.30" fill="#a0b4a3"/>
<text x="161.90" y="375.90" font-size="8.4" text-anchor="middle" fill="#3a3a3a" font-style="italic" textLength="5.04" lengthAdjust="spacingAndGlyphs" stroke="#3a3a3a" stroke-width="0.3">P</text>
<text x="161.90" y="390.60" font-size="8.3" text-anchor="middle" fill="#3a3a3a" textLength="10.38" lengthAdjust="spacingAndGlyphs" stroke="#3a3a3a" stroke-width="0.3">NS</text>
<text x="161.90" y="401.20" font-size="8.3" text-anchor="middle" fill="#3a3a3a" textLength="10.38" lengthAdjust="spacingAndGlyphs" stroke="#3a3a3a" stroke-width="0.3">NS</text>
<circle cx="160.15" cy="412.60" r="1.25" fill="#2a2a2a"/>
<circle cx="163.65" cy="412.60" r="1.25" fill="#2a2a2a"/>
<text x="161.90" y="426.10" font-size="8.3" text-anchor="middle" fill="#3a3a3a" textLength="10.38" lengthAdjust="spacingAndGlyphs" stroke="#3a3a3a" stroke-width="0.3">NS</text>
<text x="161.90" y="436.80" font-size="8.3" text-anchor="middle" fill="#3a3a3a" textLength="10.38" lengthAdjust="spacingAndGlyphs" stroke="#3a3a3a" stroke-width="0.3">NS</text>
<text x="161.90" y="450.90" font-size="8.3" text-anchor="middle" fill="#3a3a3a" textLength="10.38" lengthAdjust="spacingAndGlyphs" stroke="#3a3a3a" stroke-width="0.3">NS</text>
<text x="161.90" y="461.50" font-size="8.3" text-anchor="middle" fill="#3a3a3a" textLength="10.38" lengthAdjust="spacingAndGlyphs" stroke="#3a3a3a" stroke-width="0.3">NS</text>
<text x="161.90" y="472.30" font-size="8.3" text-anchor="middle" fill="#3a3a3a" textLength="10.38" lengthAdjust="spacingAndGlyphs" stroke="#3a3a3a" stroke-width="0.3">NS</text>
<circle cx="178.30" cy="387.90" r="1.25" fill="#2a2a2a"/>
<circle cx="181.80" cy="387.90" r="1.25" fill="#2a2a2a"/>
<circle cx="185.30" cy="387.90" r="1.25" fill="#2a2a2a"/>
<circle cx="178.30" cy="398.50" r="1.25" fill="#2a2a2a"/>
<circle cx="181.80" cy="398.50" r="1.25" fill="#2a2a2a"/>
<circle cx="185.30" cy="398.50" r="1.25" fill="#2a2a2a"/>
<circle cx="178.30" cy="412.60" r="1.25" fill="#2a2a2a"/>
<circle cx="181.80" cy="412.60" r="1.25" fill="#2a2a2a"/>
<circle cx="185.30" cy="412.60" r="1.25" fill="#2a2a2a"/>
<circle cx="178.30" cy="423.40" r="1.25" fill="#2a2a2a"/>
<circle cx="181.80" cy="423.40" r="1.25" fill="#2a2a2a"/>
<circle cx="185.30" cy="423.40" r="1.25" fill="#2a2a2a"/>
<circle cx="178.30" cy="434.10" r="1.25" fill="#2a2a2a"/>
<circle cx="181.80" cy="434.10" r="1.25" fill="#2a2a2a"/>
<circle cx="185.30" cy="434.10" r="1.25" fill="#2a2a2a"/>
<circle cx="178.30" cy="448.20" r="1.25" fill="#2a2a2a"/>
<circle cx="181.80" cy="448.20" r="1.25" fill="#2a2a2a"/>
<circle cx="185.30" cy="448.20" r="1.25" fill="#2a2a2a"/>
<circle cx="181.80" cy="458.80" r="1.25" fill="#2a2a2a"/>
<circle cx="178.30" cy="469.60" r="1.25" fill="#2a2a2a"/>
<circle cx="181.80" cy="469.60" r="1.25" fill="#2a2a2a"/>
<circle cx="185.30" cy="469.60" r="1.25" fill="#2a2a2a"/>
<text x="176.40" y="375.90" font-size="8.4" text-anchor="start" fill="#3a3a3a" font-style="italic" textLength="10.93" lengthAdjust="spacingAndGlyphs" stroke="#3a3a3a" stroke-width="0.3">P**</text>
<rect x="209.60" y="348.60" width="238.40" height="7.30" fill="#464c5d"/>
<text x="328.80" y="355.10" font-size="8.7" text-anchor="middle" fill="#dfe0e6" font-style="italic">MYC +</text>
<rect x="209.60" y="359.10" width="238.40" height="7.30" fill="#b3b6bf"/>
<text x="328.80" y="365.60" font-size="8.7" text-anchor="middle" fill="#2a2a2a" font-style="italic" stroke="#2a2a2a" stroke-width="0.15">BCL2 -</text>
<rect x="209.60" y="369.70" width="238.40" height="7.30" fill="#b3b6bf"/>
<text x="328.80" y="376.20" font-size="8.7" text-anchor="middle" fill="#2a2a2a" font-style="italic" stroke="#2a2a2a" stroke-width="0.15">BCL6 -</text>
<rect x="209.60" y="384.00" width="103.90" height="7.30" fill="#e08e1c"/>
<rect x="313.50" y="384.00" width="20.70" height="7.30" fill="#63a63e"/>
<rect x="334.20" y="384.00" width="83.60" height="7.30" fill="#62a7de"/>
<rect x="418.25" y="384.45" width="29.30" height="6.40" fill="#fff" stroke="#1e1e1e" stroke-width="0.9"/>
<path d="M418.45,390.80L422.24,384.50 M422.64,390.80L426.42,384.50 M426.82,390.80L430.61,384.50 M431.01,390.80L434.79,384.50 M435.19,390.80L438.98,384.50 M439.38,390.80L443.16,384.50 M443.56,390.80L447.35,384.50" stroke="#111" stroke-width="1.15" fill="none" stroke-linecap="round"/>
<rect x="209.60" y="394.60" width="99.60" height="7.30" fill="#f3cb8c"/>
<rect x="309.20" y="394.60" width="4.30" height="7.30" fill="#b7d3ef"/>
<rect x="313.50" y="394.60" width="9.80" height="7.30" fill="#f3cb8c"/>
<rect x="323.30" y="394.60" width="10.90" height="7.30" fill="#b7d3ef"/>
<rect x="334.20" y="394.60" width="5.20" height="7.30" fill="#f3cb8c"/>
<rect x="339.40" y="394.60" width="78.40" height="7.30" fill="#b7d3ef"/>
<rect x="417.80" y="394.60" width="30.20" height="7.30" fill="#f3cb8c"/>
<rect x="209.60" y="408.70" width="64.60" height="7.30" fill="#c9067f"/>
<rect x="274.20" y="408.70" width="29.50" height="7.30" fill="#e596c6"/>
<rect x="309.20" y="408.70" width="9.50" height="7.30" fill="#c9067f"/>
<rect x="318.70" y="408.70" width="5.20" height="7.30" fill="#e596c6"/>
<rect x="323.90" y="408.70" width="5.20" height="7.30" fill="#c9067f"/>
<rect x="329.10" y="408.70" width="4.90" height="7.30" fill="#e596c6"/>
<rect x="334.00" y="408.70" width="69.40" height="7.30" fill="#c9067f"/>
<rect x="403.40" y="408.70" width="14.40" height="7.30" fill="#e596c6"/>
<rect x="417.80" y="408.70" width="5.70" height="7.30" fill="#c9067f"/>
<rect x="423.50" y="408.70" width="4.20" height="7.30" fill="#e596c6"/>
<rect x="304.15" y="409.15" width="4.60" height="6.40" fill="#fff" stroke="#1e1e1e" stroke-width="0.9"/>
<path d="M304.35,415.50L308.55,409.20" stroke="#111" stroke-width="1.15" fill="none" stroke-linecap="round"/>
<rect x="428.15" y="409.15" width="19.40" height="6.40" fill="#fff" stroke="#1e1e1e" stroke-width="0.9"/>
<path d="M428.35,415.50L432.80,409.20 M433.20,415.50L437.65,409.20 M438.05,415.50L442.50,409.20 M442.90,415.50L447.35,409.20" stroke="#111" stroke-width="1.15" fill="none" stroke-linecap="round"/>
<rect x="209.60" y="419.50" width="19.60" height="7.30" fill="#58256b"/>
<rect x="229.20" y="419.50" width="44.70" height="7.30" fill="#9b86a9"/>
<rect x="273.90" y="419.50" width="5.20" height="7.30" fill="#58256b"/>
<rect x="279.10" y="419.50" width="30.10" height="7.30" fill="#9b86a9"/>
<rect x="309.20" y="419.50" width="83.80" height="7.30" fill="#58256b"/>
<rect x="393.00" y="419.50" width="10.40" height="7.30" fill="#9b86a9"/>
<rect x="403.40" y="419.50" width="9.70" height="7.30" fill="#58256b"/>
<rect x="413.10" y="419.50" width="29.40" height="7.30" fill="#9b86a9"/>
<rect x="442.95" y="419.95" width="4.60" height="6.40" fill="#fff" stroke="#1e1e1e" stroke-width="0.9"/>
<path d="M443.15,426.30L447.35,420.00" stroke="#111" stroke-width="1.15" fill="none" stroke-linecap="round"/>
<rect x="209.60" y="430.20" width="19.60" height="7.30" fill="#b10428"/>
<rect x="229.20" y="430.20" width="80.00" height="7.30" fill="#d9938b"/>
<rect x="309.20" y="430.20" width="9.50" height="7.30" fill="#b10428"/>
<rect x="318.70" y="430.20" width="5.20" height="7.30" fill="#d9938b"/>
<rect x="323.90" y="430.20" width="5.20" height="7.30" fill="#b10428"/>
<rect x="329.10" y="430.20" width="4.90" height="7.30" fill="#d9938b"/>
<rect x="334.00" y="430.20" width="59.00" height="7.30" fill="#b10428"/>
<rect x="393.00" y="430.20" width="49.50" height="7.30" fill="#d9938b"/>
<rect x="442.95" y="430.65" width="4.60" height="6.40" fill="#fff" stroke="#1e1e1e" stroke-width="0.9"/>
<path d="M443.15,437.00L447.35,430.70" stroke="#111" stroke-width="1.15" fill="none" stroke-linecap="round"/>
<rect x="209.60" y="444.30" width="14.80" height="7.30" fill="#5d3a17"/>
<rect x="224.40" y="444.30" width="4.80" height="7.30" fill="#aa9076"/>
<rect x="229.20" y="444.30" width="64.50" height="7.30" fill="#5d3a17"/>
<rect x="293.70" y="444.30" width="5.10" height="7.30" fill="#aa9076"/>
<rect x="304.00" y="444.30" width="4.90" height="7.30" fill="#5d3a17"/>
<rect x="308.90" y="444.30" width="4.70" height="7.30" fill="#aa9076"/>
<rect x="313.60" y="444.30" width="10.30" height="7.30" fill="#5d3a17"/>
<rect x="323.90" y="444.30" width="10.40" height="7.30" fill="#aa9076"/>
<rect x="334.30" y="444.30" width="4.90" height="7.30" fill="#5d3a17"/>
<rect x="339.20" y="444.30" width="78.60" height="7.30" fill="#aa9076"/>
<rect x="417.80" y="444.30" width="25.10" height="7.30" fill="#5d3a17"/>
<rect x="442.90" y="444.30" width="5.10" height="7.30" fill="#aa9076"/>
<rect x="299.25" y="444.75" width="4.30" height="6.40" fill="#fff" stroke="#1e1e1e" stroke-width="0.9"/>
<path d="M299.45,451.10L303.35,444.80" stroke="#111" stroke-width="1.15" fill="none" stroke-linecap="round"/>
<rect x="209.60" y="454.90" width="59.40" height="7.30" fill="#2f5190"/>
<rect x="269.00" y="454.90" width="4.90" height="7.30" fill="#9ba6cd"/>
<rect x="273.90" y="454.90" width="35.00" height="7.30" fill="#2f5190"/>
<rect x="308.90" y="454.90" width="9.80" height="7.30" fill="#9ba6cd"/>
<rect x="318.70" y="454.90" width="5.20" height="7.30" fill="#2f5190"/>
<rect x="323.90" y="454.90" width="14.90" height="7.30" fill="#9ba6cd"/>
<rect x="338.80" y="454.90" width="39.20" height="7.30" fill="#2f5190"/>
<rect x="378.00" y="454.90" width="15.00" height="7.30" fill="#9ba6cd"/>
<rect x="393.00" y="454.90" width="5.20" height="7.30" fill="#2f5190"/>
<rect x="398.20" y="454.90" width="20.10" height="7.30" fill="#9ba6cd"/>
<rect x="418.30" y="454.90" width="29.70" height="7.30" fill="#2f5190"/>
<rect x="209.60" y="465.70" width="20.50" height="7.30" fill="#a0b4a3"/>
<rect x="230.10" y="465.70" width="4.30" height="7.30" fill="#2f6b4f"/>
<rect x="234.40" y="465.70" width="34.60" height="7.30" fill="#a0b4a3"/>
<rect x="269.00" y="465.70" width="4.90" height="7.30" fill="#2f6b4f"/>
<rect x="273.90" y="465.70" width="35.00" height="7.30" fill="#a0b4a3"/>
<rect x="308.90" y="465.70" width="4.70" height="7.30" fill="#2f6b4f"/>
<rect x="313.60" y="465.70" width="5.10" height="7.30" fill="#a0b4a3"/>
<rect x="318.70" y="465.70" width="5.20" height="7.30" fill="#2f6b4f"/>
<rect x="323.90" y="465.70" width="10.80" height="7.30" fill="#a0b4a3"/>
<rect x="334.70" y="465.70" width="88.30" height="7.30" fill="#2f6b4f"/>
<rect x="423.00" y="465.70" width="25.00" height="7.30" fill="#a0b4a3"/>
<text x="456.20" y="375.90" font-size="8.4" text-anchor="middle" fill="#3a3a3a" font-style="italic" textLength="5.04" lengthAdjust="spacingAndGlyphs" stroke="#3a3a3a" stroke-width="0.3">P</text>
<text x="456.20" y="390.60" font-size="8.3" text-anchor="middle" fill="#3a3a3a" textLength="10.38" lengthAdjust="spacingAndGlyphs" stroke="#3a3a3a" stroke-width="0.3">NS</text>
<text x="456.20" y="401.20" font-size="8.3" text-anchor="middle" fill="#3a3a3a" textLength="10.38" lengthAdjust="spacingAndGlyphs" stroke="#3a3a3a" stroke-width="0.3">NS</text>
<circle cx="454.45" cy="412.60" r="1.25" fill="#2a2a2a"/>
<circle cx="457.95" cy="412.60" r="1.25" fill="#2a2a2a"/>
<circle cx="456.20" cy="423.40" r="1.25" fill="#2a2a2a"/>
<text x="456.20" y="436.80" font-size="8.3" text-anchor="middle" fill="#3a3a3a" textLength="10.38" lengthAdjust="spacingAndGlyphs" stroke="#3a3a3a" stroke-width="0.3">NS</text>
<text x="456.20" y="450.90" font-size="8.3" text-anchor="middle" fill="#3a3a3a" textLength="10.38" lengthAdjust="spacingAndGlyphs" stroke="#3a3a3a" stroke-width="0.3">NS</text>
<circle cx="456.20" cy="458.80" r="1.25" fill="#2a2a2a"/>
<text x="456.20" y="472.30" font-size="8.3" text-anchor="middle" fill="#3a3a3a" textLength="10.38" lengthAdjust="spacingAndGlyphs" stroke="#3a3a3a" stroke-width="0.3">NS</text>
<circle cx="473.50" cy="387.90" r="1.25" fill="#2a2a2a"/>
<circle cx="477.00" cy="387.90" r="1.25" fill="#2a2a2a"/>
<circle cx="480.50" cy="387.90" r="1.25" fill="#2a2a2a"/>
<circle cx="473.50" cy="398.50" r="1.25" fill="#2a2a2a"/>
<circle cx="477.00" cy="398.50" r="1.25" fill="#2a2a2a"/>
<circle cx="480.50" cy="398.50" r="1.25" fill="#2a2a2a"/>
<circle cx="473.50" cy="412.60" r="1.25" fill="#2a2a2a"/>
<circle cx="477.00" cy="412.60" r="1.25" fill="#2a2a2a"/>
<circle cx="480.50" cy="412.60" r="1.25" fill="#2a2a2a"/>
<text x="477.00" y="426.10" font-size="8.3" text-anchor="middle" fill="#3a3a3a" textLength="10.38" lengthAdjust="spacingAndGlyphs" stroke="#3a3a3a" stroke-width="0.3">NS</text>
<circle cx="473.50" cy="434.10" r="1.25" fill="#2a2a2a"/>
<circle cx="477.00" cy="434.10" r="1.25" fill="#2a2a2a"/>
<circle cx="480.50" cy="434.10" r="1.25" fill="#2a2a2a"/>
<circle cx="473.50" cy="448.20" r="1.25" fill="#2a2a2a"/>
<circle cx="477.00" cy="448.20" r="1.25" fill="#2a2a2a"/>
<circle cx="480.50" cy="448.20" r="1.25" fill="#2a2a2a"/>
<text x="477.00" y="461.50" font-size="8.3" text-anchor="middle" fill="#3a3a3a" textLength="10.38" lengthAdjust="spacingAndGlyphs" stroke="#3a3a3a" stroke-width="0.3">NS</text>
<circle cx="473.50" cy="469.60" r="1.25" fill="#2a2a2a"/>
<circle cx="477.00" cy="469.60" r="1.25" fill="#2a2a2a"/>
<circle cx="480.50" cy="469.60" r="1.25" fill="#2a2a2a"/>
<text x="469.70" y="375.90" font-size="8.4" text-anchor="start" fill="#3a3a3a" font-style="italic" textLength="13.87" lengthAdjust="spacingAndGlyphs" stroke="#3a3a3a" stroke-width="0.3">P***</text>
<text x="67.90" y="515.80" font-size="8.4" text-anchor="end" fill="#3a3a3a" textLength="61.40" lengthAdjust="spacingAndGlyphs" stroke="#3a3a3a" stroke-width="0.3">COO (Lymph2Cx)</text>
<text x="67.90" y="526.60" font-size="8.4" text-anchor="end" fill="#3a3a3a" textLength="56.70" lengthAdjust="spacingAndGlyphs" stroke="#3a3a3a" stroke-width="0.3">COO (Hans IHC)</text>
<text x="67.90" y="540.50" font-size="8.4" text-anchor="end" fill="#3a3a3a" textLength="32.20" lengthAdjust="spacingAndGlyphs" stroke="#3a3a3a" stroke-width="0.3">MYC IHC</text>
<text x="67.90" y="551.60" font-size="8.4" text-anchor="end" fill="#3a3a3a" textLength="33.80" lengthAdjust="spacingAndGlyphs" stroke="#3a3a3a" stroke-width="0.3">BCL2 IHC</text>
<text x="67.90" y="562.40" font-size="8.4" text-anchor="end" fill="#3a3a3a" textLength="15.40" lengthAdjust="spacingAndGlyphs" stroke="#3a3a3a" stroke-width="0.3">DPE</text>
<text x="67.90" y="576.20" font-size="8.4" text-anchor="end" fill="#3a3a3a" textLength="34.90" lengthAdjust="spacingAndGlyphs" stroke="#3a3a3a" stroke-width="0.3">CD10 IHC</text>
<text x="67.90" y="586.90" font-size="8.4" text-anchor="end" fill="#3a3a3a" textLength="33.80" lengthAdjust="spacingAndGlyphs" stroke="#3a3a3a" stroke-width="0.3">BCL6 IHC</text>
<text x="67.90" y="597.60" font-size="8.4" text-anchor="end" fill="#3a3a3a" textLength="38.50" lengthAdjust="spacingAndGlyphs" stroke="#3a3a3a" stroke-width="0.3">MUM1 IHC</text>
<text x="128.60" y="504.00" font-size="9.2" text-anchor="middle" fill="#2a2a2a" textLength="91.50" lengthAdjust="spacingAndGlyphs" stroke="#2a2a2a" stroke-width="0.3">Total Cohort (n = 1228)</text>
<rect x="71.00" y="509.40" width="60.60" height="7.30" fill="#e08e1c"/>
<text x="101.30" y="515.90" font-size="8.0" text-anchor="middle" fill="rgba(255,255,255,0.72)" textLength="8.72" lengthAdjust="spacingAndGlyphs">50</text>
<rect x="131.60" y="509.40" width="16.80" height="7.30" fill="#63a63e"/>
<text x="140.00" y="515.90" font-size="8.0" text-anchor="middle" fill="rgba(255,255,255,0.72)" textLength="8.72" lengthAdjust="spacingAndGlyphs">12</text>
<rect x="148.40" y="509.40" width="46.00" height="7.30" fill="#62a7de"/>
<text x="171.40" y="515.90" font-size="8.0" text-anchor="middle" fill="rgba(255,255,255,0.72)" textLength="8.72" lengthAdjust="spacingAndGlyphs">38</text>
<rect x="71.00" y="520.20" width="63.50" height="7.30" fill="#f3cb8c"/>
<text x="102.75" y="526.70" font-size="8.0" text-anchor="middle" fill="#333333" textLength="8.72" lengthAdjust="spacingAndGlyphs" stroke="#333333" stroke-width="0.1">51</text>
<rect x="134.50" y="520.20" width="59.90" height="7.30" fill="#b7d3ef"/>
<text x="164.45" y="526.70" font-size="8.0" text-anchor="middle" fill="#333333" textLength="8.72" lengthAdjust="spacingAndGlyphs" stroke="#333333" stroke-width="0.1">49</text>
<rect x="71.00" y="534.10" width="59.80" height="7.30" fill="#c9067f"/>
<text x="100.90" y="540.60" font-size="8.0" text-anchor="middle" fill="rgba(255,255,255,0.72)" textLength="8.72" lengthAdjust="spacingAndGlyphs">48</text>
<rect x="130.80" y="534.10" width="63.60" height="7.30" fill="#e596c6"/>
<text x="162.60" y="540.60" font-size="8.0" text-anchor="middle" fill="#333333" textLength="8.72" lengthAdjust="spacingAndGlyphs" stroke="#333333" stroke-width="0.1">52</text>
<rect x="71.00" y="545.20" width="83.20" height="7.30" fill="#58256b"/>
<text x="112.60" y="551.70" font-size="8.0" text-anchor="middle" fill="rgba(255,255,255,0.72)" textLength="8.72" lengthAdjust="spacingAndGlyphs">68</text>
<rect x="154.20" y="545.20" width="40.20" height="7.30" fill="#9b86a9"/>
<text x="169.70" y="551.70" font-size="8.0" text-anchor="middle" fill="#333333" textLength="8.72" lengthAdjust="spacingAndGlyphs" stroke="#333333" stroke-width="0.1">32</text>
<rect x="71.00" y="556.00" width="41.50" height="7.30" fill="#b10428"/>
<text x="91.75" y="562.50" font-size="8.0" text-anchor="middle" fill="rgba(255,255,255,0.72)" textLength="8.72" lengthAdjust="spacingAndGlyphs">34</text>
<rect x="112.50" y="556.00" width="81.90" height="7.30" fill="#d9938b"/>
<text x="153.45" y="562.50" font-size="8.0" text-anchor="middle" fill="#333333" textLength="8.72" lengthAdjust="spacingAndGlyphs" stroke="#333333" stroke-width="0.1">66</text>
<rect x="71.00" y="569.80" width="48.60" height="7.30" fill="#5d3a17"/>
<text x="95.30" y="576.30" font-size="8.0" text-anchor="middle" fill="rgba(255,255,255,0.72)" textLength="8.72" lengthAdjust="spacingAndGlyphs">40</text>
<rect x="119.60" y="569.80" width="74.80" height="7.30" fill="#aa9076"/>
<text x="157.00" y="576.30" font-size="8.0" text-anchor="middle" fill="#333333" textLength="8.72" lengthAdjust="spacingAndGlyphs" stroke="#333333" stroke-width="0.1">60</text>
<rect x="71.00" y="580.50" width="105.30" height="7.30" fill="#2f5190"/>
<text x="123.65" y="587.00" font-size="8.0" text-anchor="middle" fill="rgba(255,255,255,0.72)" textLength="8.72" lengthAdjust="spacingAndGlyphs">85</text>
<rect x="176.30" y="580.50" width="18.10" height="7.30" fill="#9ba6cd"/>
<text x="185.35" y="587.00" font-size="8.0" text-anchor="middle" fill="#333333" textLength="8.72" lengthAdjust="spacingAndGlyphs" stroke="#333333" stroke-width="0.1">15</text>
<rect x="71.00" y="591.20" width="69.40" height="7.30" fill="#2f6b4f"/>
<text x="105.70" y="597.70" font-size="8.0" text-anchor="middle" fill="rgba(255,255,255,0.72)" textLength="8.72" lengthAdjust="spacingAndGlyphs">56</text>
<rect x="140.40" y="591.20" width="54.00" height="7.30" fill="#a0b4a3"/>
<text x="167.40" y="597.70" font-size="8.0" text-anchor="middle" fill="#333333" textLength="8.72" lengthAdjust="spacingAndGlyphs" stroke="#333333" stroke-width="0.1">44</text>
<text x="413.70" y="505.00" font-size="8.9" text-anchor="middle" fill="#2a2a2a" textLength="28.40" lengthAdjust="spacingAndGlyphs" stroke="#2a2a2a" stroke-width="0.3">Legend</text>
<text x="329.20" y="515.80" font-size="8.4" text-anchor="end" fill="#3a3a3a" textLength="87.80" lengthAdjust="spacingAndGlyphs" stroke="#3a3a3a" stroke-width="0.3">Cell-of-origin (Lymph2Cx)</text>
<rect x="332.00" y="509.60" width="7.60" height="7.20" fill="#e08e1c"/>
<text x="342.60" y="515.80" font-size="8.4" text-anchor="start" fill="#3a3a3a" textLength="16.20" lengthAdjust="spacingAndGlyphs" stroke="#3a3a3a" stroke-width="0.3">GCB</text>
<rect x="381.40" y="509.60" width="7.50" height="7.20" fill="#63a63e"/>
<text x="391.80" y="515.80" font-size="8.4" text-anchor="start" fill="#3a3a3a" textLength="40.40" lengthAdjust="spacingAndGlyphs" stroke="#3a3a3a" stroke-width="0.3">Unclassified</text>
<text x="329.20" y="526.57" font-size="8.4" text-anchor="end" fill="#3a3a3a" textLength="83.50" lengthAdjust="spacingAndGlyphs" stroke="#3a3a3a" stroke-width="0.3">Cell-of-origin (Hans IHC)</text>
<rect x="332.00" y="520.37" width="7.60" height="7.20" fill="#f3cb8c"/>
<text x="342.60" y="526.57" font-size="8.4" text-anchor="start" fill="#3a3a3a" textLength="16.20" lengthAdjust="spacingAndGlyphs" stroke="#3a3a3a" stroke-width="0.3">GCB</text>
<rect x="381.40" y="520.37" width="7.50" height="7.20" fill="#b7d3ef"/>
<text x="391.80" y="526.57" font-size="8.4" text-anchor="start" fill="#3a3a3a" textLength="31.40" lengthAdjust="spacingAndGlyphs" stroke="#3a3a3a" stroke-width="0.3">non-GCB</text>
<text x="329.20" y="537.34" font-size="8.4" text-anchor="end" fill="#3a3a3a" textLength="32.00" lengthAdjust="spacingAndGlyphs" stroke="#3a3a3a" stroke-width="0.3">MYC IHC</text>
<rect x="332.00" y="531.14" width="7.60" height="7.20" fill="#c9067f"/>
<text x="342.60" y="537.34" font-size="8.4" text-anchor="start" fill="#3a3a3a" textLength="21.60" lengthAdjust="spacingAndGlyphs" stroke="#3a3a3a" stroke-width="0.3">≥ 40%</text>
<rect x="381.40" y="531.14" width="7.50" height="7.20" fill="#e596c6"/>
<text x="391.80" y="537.34" font-size="8.4" text-anchor="start" fill="#3a3a3a" textLength="21.90" lengthAdjust="spacingAndGlyphs" stroke="#3a3a3a" stroke-width="0.3">&lt; 40%</text>
<text x="329.20" y="548.11" font-size="8.4" text-anchor="end" fill="#3a3a3a" textLength="33.10" lengthAdjust="spacingAndGlyphs" stroke="#3a3a3a" stroke-width="0.3">BCL2 IHC</text>
<rect x="332.00" y="541.91" width="7.60" height="7.20" fill="#58256b"/>
<text x="342.60" y="548.11" font-size="8.4" text-anchor="start" fill="#3a3a3a" textLength="21.60" lengthAdjust="spacingAndGlyphs" stroke="#3a3a3a" stroke-width="0.3">≥ 50%</text>
<rect x="381.40" y="541.91" width="7.50" height="7.20" fill="#9b86a9"/>
<text x="391.80" y="548.11" font-size="8.4" text-anchor="start" fill="#3a3a3a" textLength="21.90" lengthAdjust="spacingAndGlyphs" stroke="#3a3a3a" stroke-width="0.3">&lt; 50%</text>
<text x="329.20" y="558.88" font-size="8.4" text-anchor="end" fill="#3a3a3a" textLength="102.40" lengthAdjust="spacingAndGlyphs" stroke="#3a3a3a" stroke-width="0.3">Dual Protein Expression (DPE)</text>
<rect x="332.00" y="552.68" width="7.60" height="7.20" fill="#b10428"/>
<text x="342.60" y="558.88" font-size="8.4" text-anchor="start" fill="#3a3a3a" textLength="14.60" lengthAdjust="spacingAndGlyphs" stroke="#3a3a3a" stroke-width="0.3">DPE</text>
<rect x="381.40" y="552.68" width="7.50" height="7.20" fill="#d9938b"/>
<text x="391.80" y="558.88" font-size="8.4" text-anchor="start" fill="#3a3a3a" textLength="30.10" lengthAdjust="spacingAndGlyphs" stroke="#3a3a3a" stroke-width="0.3">non-DPE</text>
<text x="329.20" y="569.65" font-size="8.4" text-anchor="end" fill="#3a3a3a" textLength="34.40" lengthAdjust="spacingAndGlyphs" stroke="#3a3a3a" stroke-width="0.3">CD10 IHC</text>
<rect x="332.00" y="563.45" width="7.60" height="7.20" fill="#5d3a17"/>
<text x="342.60" y="569.65" font-size="8.4" text-anchor="start" fill="#3a3a3a" textLength="21.60" lengthAdjust="spacingAndGlyphs" stroke="#3a3a3a" stroke-width="0.3">≥ 30%</text>
<rect x="381.40" y="563.45" width="7.50" height="7.20" fill="#aa9076"/>
<text x="391.80" y="569.65" font-size="8.4" text-anchor="start" fill="#3a3a3a" textLength="21.90" lengthAdjust="spacingAndGlyphs" stroke="#3a3a3a" stroke-width="0.3">&lt; 30%</text>
<text x="329.20" y="580.42" font-size="8.4" text-anchor="end" fill="#3a3a3a" textLength="33.10" lengthAdjust="spacingAndGlyphs" stroke="#3a3a3a" stroke-width="0.3">BCL6 IHC</text>
<rect x="332.00" y="574.22" width="7.60" height="7.20" fill="#2f5190"/>
<text x="342.60" y="580.42" font-size="8.4" text-anchor="start" fill="#3a3a3a" textLength="21.60" lengthAdjust="spacingAndGlyphs" stroke="#3a3a3a" stroke-width="0.3">≥ 30%</text>
<rect x="381.40" y="574.22" width="7.50" height="7.20" fill="#9ba6cd"/>
<text x="391.80" y="580.42" font-size="8.4" text-anchor="start" fill="#3a3a3a" textLength="21.90" lengthAdjust="spacingAndGlyphs" stroke="#3a3a3a" stroke-width="0.3">&lt; 30%</text>
<text x="329.20" y="591.19" font-size="8.4" text-anchor="end" fill="#3a3a3a" textLength="38.20" lengthAdjust="spacingAndGlyphs" stroke="#3a3a3a" stroke-width="0.3">MUM1 IHC</text>
<rect x="332.00" y="584.99" width="7.60" height="7.20" fill="#2f6b4f"/>
<text x="342.60" y="591.19" font-size="8.4" text-anchor="start" fill="#3a3a3a" textLength="21.60" lengthAdjust="spacingAndGlyphs" stroke="#3a3a3a" stroke-width="0.3">≥ 30%</text>
<rect x="381.40" y="584.99" width="7.50" height="7.20" fill="#a0b4a3"/>
<text x="391.80" y="591.19" font-size="8.4" text-anchor="start" fill="#3a3a3a" textLength="21.90" lengthAdjust="spacingAndGlyphs" stroke="#3a3a3a" stroke-width="0.3">&lt; 30%</text>
<rect x="452.80" y="509.60" width="7.30" height="7.20" fill="#62a7de"/>
<text x="464.80" y="515.80" font-size="8.4" text-anchor="start" fill="#3a3a3a" textLength="15.50" lengthAdjust="spacingAndGlyphs" stroke="#3a3a3a" stroke-width="0.3">ABC</text>
<text x="328.80" y="601.96" font-size="8.4" text-anchor="end" fill="#3a3a3a" textLength="27.10" lengthAdjust="spacingAndGlyphs" stroke="#3a3a3a" stroke-width="0.3">P values</text>
<circle cx="334.80" cy="599.16" r="1.1" fill="#2a2a2a"/>
<text x="342.60" y="601.96" font-size="8.4" text-anchor="start" fill="#3a3a3a" textLength="21.90" lengthAdjust="spacingAndGlyphs" stroke="#3a3a3a" stroke-width="0.3">&lt; 0.05</text>
<circle cx="384.00" cy="599.16" r="1.1" fill="#2a2a2a"/>
<circle cx="387.20" cy="599.16" r="1.1" fill="#2a2a2a"/>
<text x="392.30" y="601.96" font-size="8.4" text-anchor="start" fill="#3a3a3a" textLength="21.40" lengthAdjust="spacingAndGlyphs" stroke="#3a3a3a" stroke-width="0.3">&lt; 0.01</text>
<circle cx="430.50" cy="600.16" r="1.1" fill="#2a2a2a"/>
<circle cx="433.90" cy="600.16" r="1.1" fill="#2a2a2a"/>
<circle cx="437.30" cy="600.16" r="1.1" fill="#2a2a2a"/>
<text x="441.30" y="603.96" font-size="8.4" text-anchor="start" fill="#3a3a3a" textLength="25.60" lengthAdjust="spacingAndGlyphs" stroke="#3a3a3a" stroke-width="0.3">&lt; 0.001</text>
<rect x="0.00" y="0.00" width="520.00" height="1.10" fill="#000"/>
<rect x="0.00" y="0.00" width="1.40" height="610.00" fill="#000"/>
<rect x="518.60" y="0.00" width="1.40" height="610.00" fill="#000"/>
<rect x="0.00" y="608.30" width="520.00" height="1.70" fill="#000"/>
</svg>
</body></html>
